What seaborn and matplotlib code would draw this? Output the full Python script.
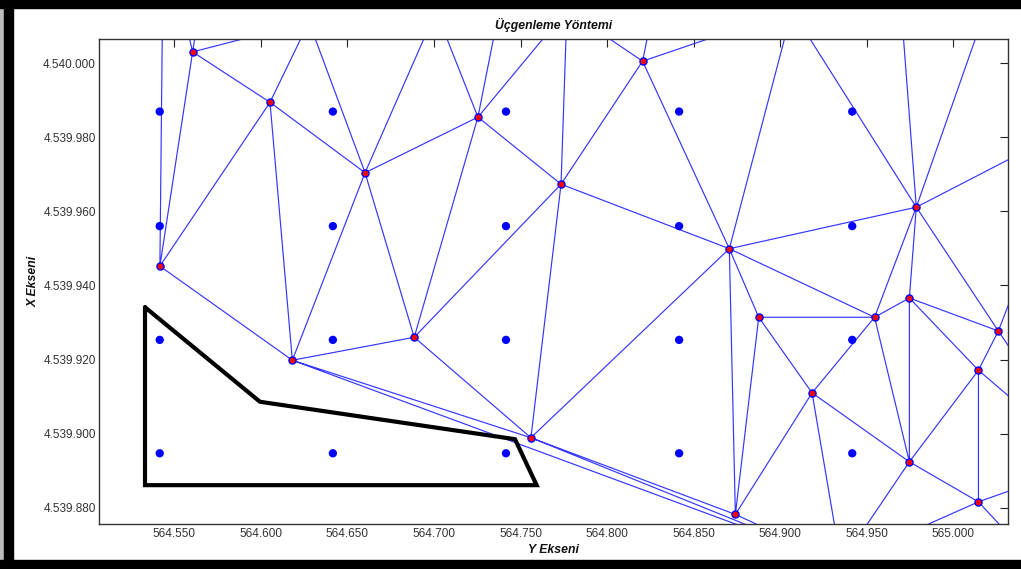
import numpy as np
import pandas as pd
import seaborn as sns
import matplotlib
matplotlib.use("Agg")
import matplotlib.pyplot as plt
import matplotlib.tri as mtri
from matplotlib.patches import Rectangle
from matplotlib.ticker import FuncFormatter

# Surveyed points (UTM metres): label, easting (Y), northing (X)
station_names = ["P1", "P2", "P3", "P4", "P5", "P6", "P7", "P8", "P9", "P10", "P11",
                 "P12", "P13", "P14", "P15", "P16", "P17", "P18", "P19", "P20", "P21"]
station_y = [564560.6, 564605.3, 564660.2, 564725.4, 564541.7, 564820.5, 564773.4,
             564870.6, 564978.6, 564618.2, 564688.6, 564756.0, 564874.1, 564887.6,
             564954.5, 564974.6, 565026.0, 565014.5, 564918.4, 564974.6, 565014.5]
station_x = [4540003.0, 4539989.4, 4539970.4, 4539985.4, 4539945.2, 4540000.5, 4539967.3,
             4539949.9, 4539961.1, 4539919.8, 4539926.0, 4539898.9, 4539878.2, 4539931.4,
             4539931.4, 4539936.6, 4539927.7, 4539917.1, 4539911.0, 4539892.4, 4539881.6]

# Neighbouring points lying outside the plotted window
outer_names = ["J0", "J2", "A", "B", "D", "C", "F", "E", "G", "H", "I", "L2", "M", "N"]
outer_y = [564543.7, 564571.8, 564627.8, 564701.2, 564744.5, 564776.8, 564833.5,
           564906.8, 564966.9, 565032.8, 565072.3, 565077.4, 565049.8, 564935.1]
outer_x = [4540036.5, 4540036.4, 4540011.1, 4540014.0, 4540030.5, 4540014.3, 4540030.5,
           4540014.2, 4540033.2, 4540033.2, 4539983.7, 4539892.0, 4539863.8, 4539865.1]

# Triangles of the network
triangles = [
    ("P5", "J0", "P1"), ("P1", "J0", "J2"), ("P1", "J2", "A"), ("P1", "A", "P2"),
    ("P5", "P1", "P2"), ("P5", "P2", "P10"), ("P2", "A", "P3"), ("P2", "P3", "P10"),
    ("P3", "A", "B"), ("P3", "B", "P4"), ("P3", "P4", "P11"), ("P3", "P11", "P10"),
    ("P4", "B", "D"), ("P4", "D", "C"), ("P4", "C", "P7"), ("P4", "P7", "P11"),
    ("P7", "C", "P6"), ("P6", "C", "F"), ("P6", "F", "E"), ("P6", "E", "P8"),
    ("P6", "P8", "P7"), ("P7", "P8", "P12"), ("P7", "P12", "P11"), ("P11", "P12", "P10"),
    ("P10", "P12", "N"), ("P12", "P13", "N"), ("P12", "P8", "P13"), ("P8", "P14", "P13"),
    ("P8", "P15", "P14"), ("P8", "P9", "P15"), ("P8", "E", "P9"), ("P9", "E", "G"),
    ("P9", "G", "H"), ("P9", "H", "I"), ("P9", "I", "P17"), ("P9", "P17", "P16"),
    ("P9", "P16", "P15"), ("P13", "P14", "P19"), ("P14", "P15", "P19"), ("P13", "P19", "N"),
    ("P19", "P20", "N"), ("P19", "P15", "P20"), ("P15", "P16", "P20"), ("P16", "P18", "P20"),
    ("P16", "P17", "P18"), ("P17", "I", "L2"), ("P17", "L2", "P18"), ("P18", "L2", "P21"),
    ("P18", "P21", "P20"), ("P20", "P21", "N"), ("P21", "L2", "M"), ("P21", "M", "N"),
]

# Regular interpolation grid
grid_y = [564541.6, 564641.6, 564741.6, 564841.6, 564941.6]
grid_x = [4539986.9, 4539956.0, 4539925.3, 4539894.7]

# Parcel boundary
parcel_y = [564533.1, 564599.5, 564746.8, 564759.3, 564533.1, 564533.1]
parcel_x = [4539934.1, 4539908.6, 4539898.5, 4539886.1, 4539886.1, 4539934.1]

x_ticks = np.arange(564550, 565001, 50)
y_ticks = np.arange(4539880, 4540001, 20)

sns.set_theme(style="white")
plt.rcParams["font.family"] = ["Liberation Sans", "DejaVu Sans"]

fig = plt.figure(figsize=(10.21, 5.69), dpi=100)
fig.patch.set_facecolor("white")
ax = fig.add_axes([0.09726, 0.07961, 0.88972, 0.85132])

all_names = station_names + outer_names
all_y = np.array(station_y + outer_y)
all_x = np.array(station_x + outer_x)
index = {n: i for i, n in enumerate(all_names)}
tri = mtri.Triangulation(all_y, all_x, [[index[a] for a in t] for t in triangles])
ax.triplot(tri, color="#3535ff", lw=0.85, zorder=1)

ax.plot(parcel_y, parcel_x, color="black", lw=3.0, solid_joinstyle="miter", zorder=2)

gy, gx = np.meshgrid(grid_y, grid_x)
grid_df = pd.DataFrame({"Y": gy.ravel(), "X": gx.ravel()})
sns.scatterplot(data=grid_df, x="Y", y="X", color="#0000ff", s=36, edgecolor="none",
                linewidth=0, ax=ax, zorder=3, legend=False)

st_df = pd.DataFrame({"Y": station_y, "X": station_x})
sns.scatterplot(data=st_df, x="Y", y="X", color="#ff0000", s=26, edgecolor="#0000ff",
                linewidth=1.0, ax=ax, zorder=4, legend=False)

ax.set_xlim(564506.7, 565031.4)
ax.set_ylim(4539875.7, 4540006.4)
ax.set_xticks(x_ticks)
ax.set_yticks(y_ticks)
dotted = FuncFormatter(lambda v, p: f"{int(round(v)):,}".replace(",", "."))
ax.xaxis.set_major_formatter(dotted)
ax.yaxis.set_major_formatter(dotted)
ax.tick_params(direction="in", length=5.6, width=0.8, color="#222222",
               top=True, right=True, labelsize=8.5, labelcolor="#333333")
ax.tick_params(axis="x", pad=3)
ax.tick_params(axis="y", pad=2.5)
for s in ax.spines.values():
    s.set_color("#333333")
    s.set_linewidth(1.0)

ax.set_title("Üçgenleme Yöntemi", fontsize=8.8, fontweight="bold", fontstyle="italic",
             pad=7.4, color="#111111")
ax.set_xlabel("Y Ekseni", fontsize=8.8, fontweight="bold", fontstyle="italic",
              labelpad=3, color="#111111")
ax.set_ylabel("X Ekseni", fontsize=8.8, fontweight="bold", fontstyle="italic",
              labelpad=2.5, color="#111111")

# Dark window frame around the figure
W, H = 1021, 569
fig.patches.append(Rectangle((0, 0), 4 / W, 1, transform=fig.transFigure,
                             color="#bdbdbd", zorder=0))
fig.patches.append(Rectangle((4 / W, 0), 9 / W, 1, transform=fig.transFigure,
                             color="black", zorder=0))
fig.patches.append(Rectangle((0, 1 - 8 / H), 1, 8 / H, transform=fig.transFigure,
                             color="black", zorder=0))
fig.patches.append(Rectangle((0, 0), 1, 9 / H, transform=fig.transFigure,
                             color="black", zorder=0))

fig.savefig("out.png", dpi=100)
